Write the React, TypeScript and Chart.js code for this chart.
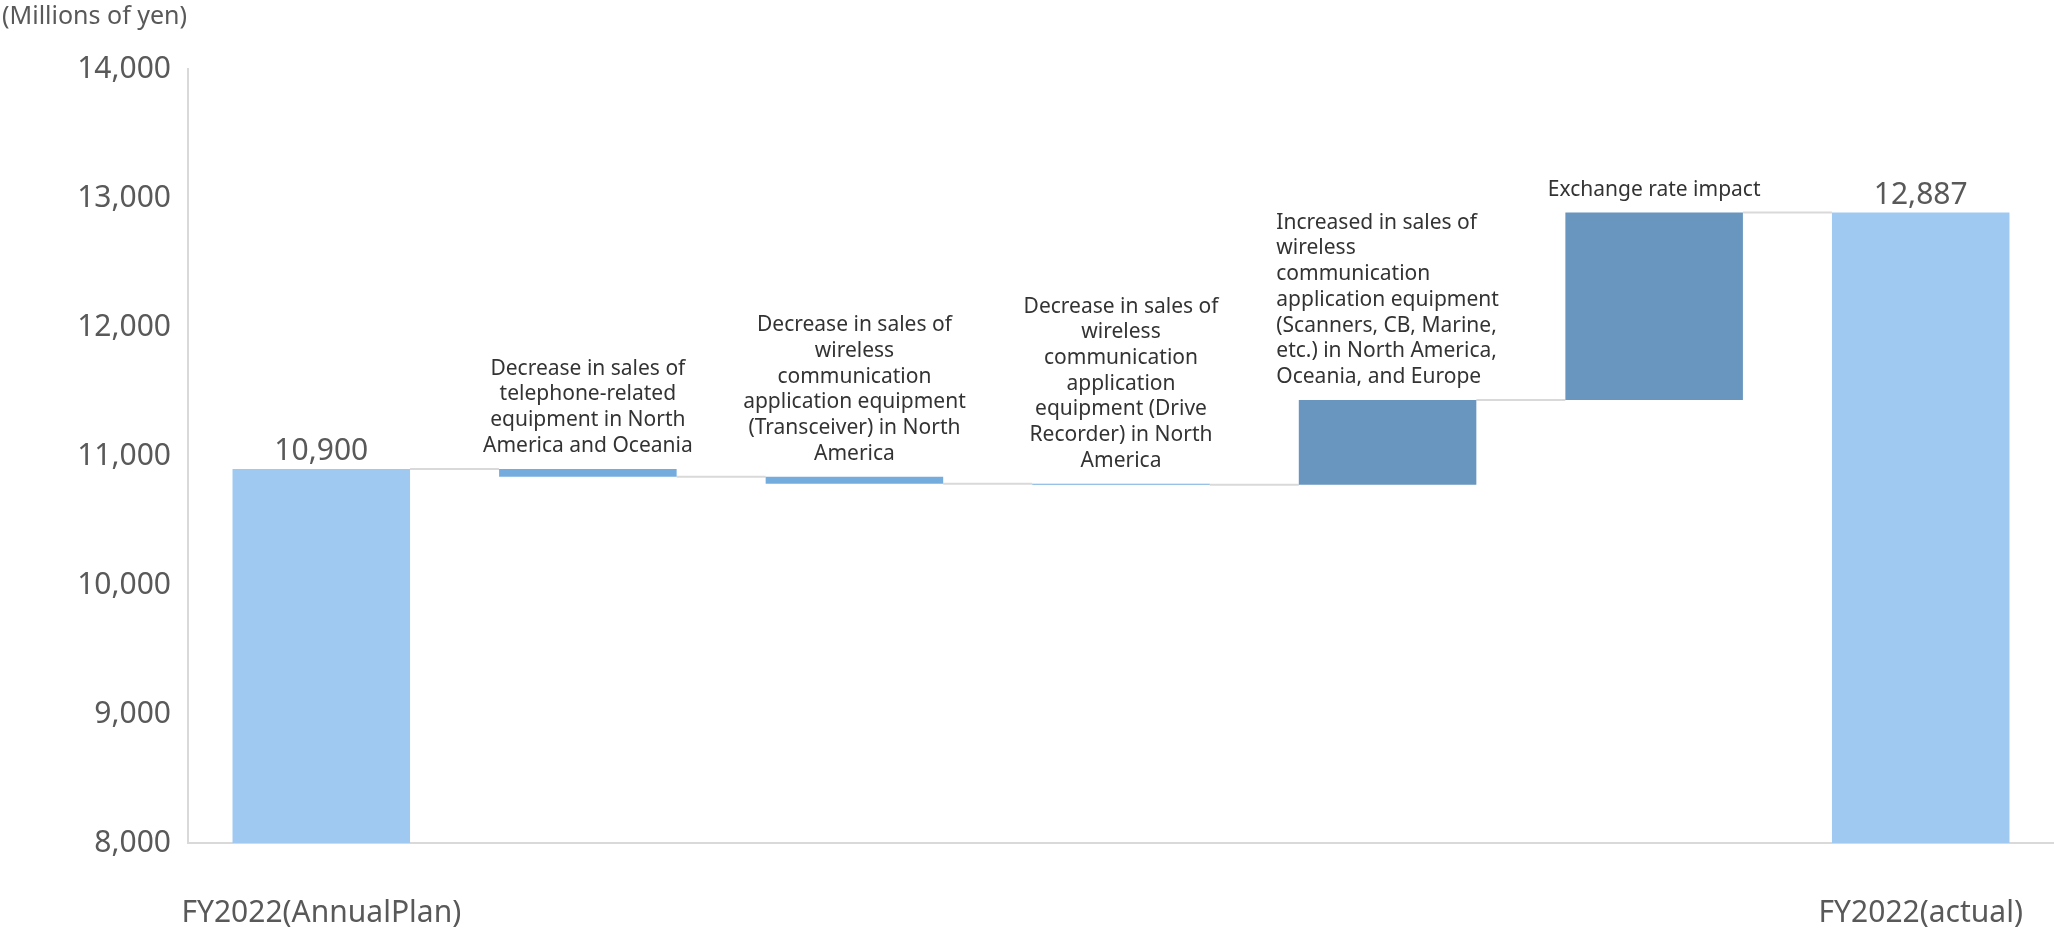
import React, { useEffect, useRef } from "react";
import { Chart, registerables } from "chart.js";

Chart.register(...registerables);

// ---------- data ----------
const categories = ["FY2022(AnnualPlan)", "", "", "", "", "", "FY2022(actual)"];
const barKinds = ["total", "decrease", "decrease", "decrease", "increase", "increase", "total"];
const barValues = [10900, -60, -55, -8, 657, 1453, 12887];
const valueLabels = ["10,900", "", "", "", "", "", "12,887"];
const noteLines: string[][] = [
  [],
  ["Decrease in sales of", "telephone-related", "equipment in North", "America and Oceania"],
  [
    "Decrease in sales of",
    "wireless",
    "communication",
    "application equipment",
    "(Transceiver) in North",
    "America",
  ],
  [
    "Decrease in sales of",
    "wireless",
    "communication",
    "application",
    "equipment (Drive",
    "Recorder) in North",
    "America",
  ],
  [
    "Increased in sales of",
    "wireless",
    "communication",
    "application equipment",
    "(Scanners, CB, Marine,",
    "etc.) in North America,",
    "Oceania, and Europe",
  ],
  ["Exchange rate impact"],
  [],
];
const noteAlign = ["center", "center", "center", "center", "left", "center", "center"];
const yMin = 8000;
const yMax = 14000;
const yStep = 1000;
const unitLabel = "(Millions of yen)";

const kindColors: Record<string, string> = {
  total: "#A0C9F1",
  decrease: "#74ACDE",
  increase: "#6896BE",
};

// floating ranges and running levels built from the values
const ranges: [number, number][] = [];
const levels: number[] = [];
{
  let running = 0;
  barValues.forEach((v, i) => {
    if (barKinds[i] === "total") {
      running = v;
      ranges.push([yMin, v]);
    } else {
      const start = running;
      running += v;
      ranges.push([start, running]);
    }
    levels.push(running);
  });
}

const FONT = "'Noto Sans', sans-serif";

const waterfallPlugin = {
  id: "waterfallDecor",
  beforeDatasetsDraw(chart: any) {
    const meta = chart.getDatasetMeta(0);
    const y = chart.scales.y;
    const ctx = chart.ctx;
    ctx.save();
    ctx.strokeStyle = "#D9D9D9";
    ctx.lineWidth = 2;
    for (let i = 0; i < meta.data.length - 1; i++) {
      const a = meta.data[i].getProps(["x", "width"], true);
      const b = meta.data[i + 1].getProps(["x", "width"], true);
      const yy = y.getPixelForValue(levels[i]);
      ctx.beginPath();
      ctx.moveTo(a.x + a.width / 2, yy);
      ctx.lineTo(b.x - b.width / 2, yy);
      ctx.stroke();
    }
    ctx.restore();
  },
  afterDatasetsDraw(chart: any) {
    const meta = chart.getDatasetMeta(0);
    const ctx = chart.ctx;
    ctx.save();
    meta.data.forEach((el: any, i: number) => {
      const p = el.getProps(["x", "y", "base", "width"], true);
      const top = Math.min(p.y, p.base);
      if (valueLabels[i]) {
        ctx.font = `30px ${FONT}`;
        ctx.fillStyle = "#595959";
        ctx.textAlign = "center";
        ctx.textBaseline = "middle";
        ctx.fillText(valueLabels[i], p.x, top - 17);
      }
      const lines = noteLines[i];
      if (lines && lines.length) {
        ctx.font = `21px ${FONT}`;
        ctx.fillStyle = "#333333";
        ctx.textBaseline = "middle";
        const lh = 25.7;
        const maxW = Math.max(...lines.map((l) => ctx.measureText(l).width));
        const n = lines.length;
        lines.forEach((line, k) => {
          const yy = top - 23 - (n - 1 - k) * lh;
          if (noteAlign[i] === "left") {
            ctx.textAlign = "left";
            ctx.fillText(line, p.x - maxW / 2, yy);
          } else {
            ctx.textAlign = "center";
            ctx.fillText(line, p.x, yy);
          }
        });
      }
    });
    ctx.restore();
  },
};

export default function App() {
  const canvasRef = useRef<HTMLCanvasElement | null>(null);

  useEffect(() => {
    document.body.style.margin = "0";
    document.body.style.overflow = "hidden";
    const canvas = canvasRef.current;
    if (!canvas) return;
    const chart = new Chart(canvas, {
      type: "bar",
      data: {
        labels: categories,
        datasets: [
          {
            data: ranges as any,
            backgroundColor: barKinds.map((k) => kindColors[k]),
            borderWidth: 0,
            barPercentage: 0.666,
            categoryPercentage: 1,
          },
        ],
      },
      options: {
        animation: false,
        responsive: true,
        maintainAspectRatio: false,
        layout: { padding: { left: 2, right: -9, top: 0, bottom: 0 } },
        plugins: {
          legend: { display: false },
          tooltip: { enabled: false },
          title: {
            display: true,
            text: unitLabel,
            align: "start",
            color: "#595959",
            font: { family: FONT, size: 25, weight: "normal" },
            padding: { top: 2, bottom: 37 },
          },
        },
        scales: {
          x: {
            grid: { display: false, drawTicks: false },
            border: { display: true, color: "#D9D9D9", width: 2 },
            ticks: {
              color: "#595959",
              font: { family: FONT, size: 30 },
              padding: 52,
              maxRotation: 0,
              autoSkip: false,
            },
            afterFit: (s: any) => {
              s.height = 90;
              s.paddingLeft = 0;
              s.paddingRight = 0;
            },
          },
          y: {
            min: yMin,
            max: yMax,
            grid: { display: false, drawTicks: false },
            border: { display: true, color: "#D9D9D9", width: 2 },
            ticks: {
              stepSize: yStep,
              color: "#595959",
              font: { family: FONT, size: 30 },
              padding: 17,
              callback: (v: any) => Number(v).toLocaleString("en-US"),
            },
            afterFit: (s: any) => {
              s.width = 186;
            },
          },
        },
      },
      plugins: [waterfallPlugin],
    });
    return () => chart.destroy();
  }, []);

  return (
    <div style={{ width: "2054px", height: "933px", position: "relative" }}>
      <canvas ref={canvasRef} />
    </div>
  );
}
